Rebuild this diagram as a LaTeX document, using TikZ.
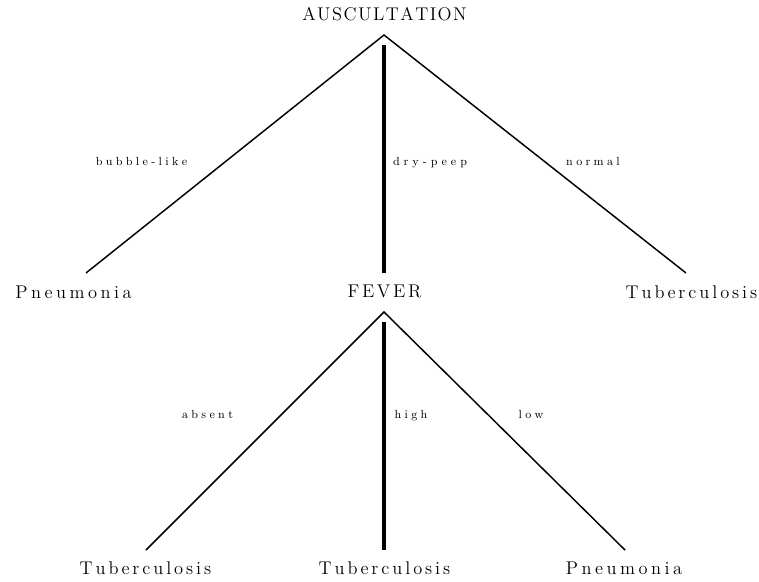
\documentclass[tikz,border=0pt]{standalone}
% letter-spaced text: \spread{<kern>}{<word>}
\makeatletter
\newcommand\spread[2]{\def\spr@k{#1}\spr@loop#2\@nil}
\def\spr@loop#1{\ifx#1\@nil\kern-\spr@k\relax\else#1\kern\spr@k\relax\expandafter\spr@loop\fi}
\makeatother
\begin{document}
\begin{tikzpicture}[x=0.75pt,y=-0.75pt,
  attr/.style={font=\fontsize{13.8}{15}\selectfont, anchor=base, inner sep=0pt},
  val/.style={font=\fontsize{8.8}{10}\selectfont, anchor=base, inner sep=0pt},
  branch/.style={line width=1.1pt},
  mainbranch/.style={line width=3pt}]
\useasboundingbox (0,0) rectangle (759,581);

% decision nodes and leaves
\node[attr] (ausc) at (384.5,21) {\spread{1.1pt}{AUSCULTATION}};
\node[attr] (pneu1) at (73.5,298) {\spread{2.6pt}{Pneumonia}};
\node[attr] (fever) at (384.5,297) {\spread{2pt}{FEVER}};
\node[attr] (tub1) at (691.5,298) {\spread{2.2pt}{Tuberculosis}};
\node[attr] (tub2) at (145.5,574) {\spread{2.2pt}{Tuberculosis}};
\node[attr] (tub3) at (384.5,574) {\spread{2.2pt}{Tuberculosis}};
\node[attr] (pneu2) at (624,574) {\spread{2.6pt}{Pneumonia}};

% branch end points
\coordinate (apexA) at (384,35);
\coordinate (stemA) at (384,45);
\coordinate (endA1) at (86,273);
\coordinate (endA2) at (384,273);
\coordinate (endA3) at (686,273);
\coordinate (apexF) at (384,312);
\coordinate (stemF) at (384,322);
\coordinate (endF1) at (146,550);
\coordinate (endF2) at (384,550);
\coordinate (endF3) at (625,550);

% branches of AUSCULTATION
\draw[branch] (endA1) -- (apexA) -- (endA3);
\draw[mainbranch] (stemA) -- (endA2);
% branches of FEVER
\draw[branch] (endF1) -- (apexF) -- (endF3);
\draw[mainbranch] (stemF) -- (endF2);

% branch labels
\node[val] (lbub) at (141.5,166) {\spread{2.5pt}{bubble-like}};
\node[val] (ldry) at (430,166) {\spread{3pt}{dry-peep}};
\node[val] (lnor) at (593,166) {\spread{2.5pt}{normal}};
\node[val] (labs) at (207.5,418) {\spread{2.5pt}{absent}};
\node[val] (lhig) at (411,418) {\spread{2.5pt}{high}};
\node[val] (llow) at (531,418) {\spread{2.5pt}{low}};
\end{tikzpicture}
\end{document}
